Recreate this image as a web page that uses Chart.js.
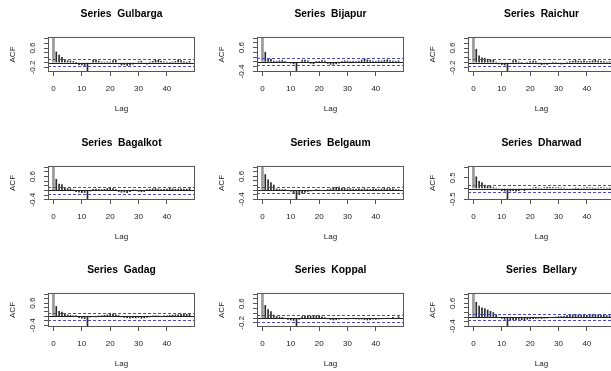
<!DOCTYPE html>
<html>
<head>
<meta charset="utf-8">
<script src="https://cdn.jsdelivr.net/npm/chart.js@4.4.1/dist/chart.umd.min.js"></script>
<style>
  html, body { margin: 0; padding: 0; background: #fff; width: 611px; height: 371px; overflow: hidden; position: relative; }
  .panel { position: absolute; }
</style>
</head>
<body>
<script>
// lags 0..48 and the labelled x ticks
const LAGS = [0, 1, 2, 3, 4, 5, 6, 7, 8, 9, 10, 11, 12, 13, 14, 15, 16, 17, 18, 19, 20, 21, 22, 23, 24,
  25, 26, 27, 28, 29, 30, 31, 32, 33, 34, 35, 36, 37, 38, 39, 40, 41, 42, 43, 44, 45, 46, 47, 48];
const X_TICKS = [0, 10, 20, 30, 40];
const CI = 0.15; // the blue dashed bounds

const ACF_GULBARGA = [1.00, 0.44, 0.31, 0.22, 0.12, 0.08, 0.07, 0.05, 0.00, -0.08, -0.10, -0.12, -0.33, -0.05, 0.10, 0.12, 0.06,
  0.03, 0.02, 0.03, 0.02, 0.08, 0.10, -0.05, -0.10, -0.08, -0.12, -0.10, -0.06, -0.03, 0.04, 0.06, -0.04, -0.06, 0.02, 0.05,
  0.10, 0.10, 0.06, 0.03, 0.02, 0.00, 0.03, 0.05, 0.12, 0.08, 0.04, 0.01, 0.05];
const ACF_BIJAPUR = [1.00, 0.41, 0.15, 0.12, 0.04, 0.03, 0.05, 0.06, 0.02, -0.03, -0.05, -0.08, -0.37, -0.03, 0.07, 0.08, 0.05,
  -0.06, -0.08, 0.02, 0.03, 0.06, 0.04, -0.06, -0.10, -0.10, -0.08, -0.05, 0.03, 0.05, 0.04, 0.02, 0.03, 0.00, 0.04, 0.08,
  0.14, 0.09, 0.06, 0.04, 0.03, 0.05, 0.04, 0.07, 0.09, 0.06, 0.04, 0.03, 0.05];
const ACF_RAICHUR = [1.00, 0.55, 0.28, 0.20, 0.18, 0.14, 0.12, 0.10, 0.02, -0.05, -0.08, -0.10, -0.33, -0.04, 0.08, 0.10, 0.03,
  0.00, -0.02, 0.02, 0.04, 0.06, 0.05, -0.05, -0.08, -0.06, -0.07, -0.04, 0.02, 0.00, -0.04, -0.06, -0.05, 0.02, 0.04, 0.06,
  0.09, 0.06, 0.05, 0.07, 0.04, 0.05, 0.08, 0.10, 0.07, 0.05, 0.04, 0.03, 0.04];
const ACF_BAGALKOT = [1.00, 0.48, 0.27, 0.25, 0.10, 0.08, 0.07, 0.02, -0.06, -0.08, -0.10, -0.09, -0.36, -0.03, 0.05, 0.06, 0.04,
  0.03, 0.05, 0.08, 0.10, 0.08, 0.04, -0.05, -0.08, -0.07, -0.10, -0.06, 0.02, 0.01, -0.04, -0.06, -0.05, 0.03, 0.05, 0.07,
  0.08, 0.06, 0.04, 0.05, 0.06, 0.08, 0.07, 0.05, 0.06, 0.07, 0.06, 0.05, 0.08];
const ACF_BELGAUM = [1.00, 0.68, 0.45, 0.33, 0.22, 0.05, 0.03, 0.02, 0.01, -0.02, -0.05, -0.12, -0.38, -0.20, -0.15, -0.10, -0.06,
  -0.04, -0.02, 0.01, 0.00, -0.02, -0.03, 0.02, 0.05, 0.08, 0.12, 0.13, 0.08, 0.07, 0.05, 0.06, 0.04, 0.03, 0.05, 0.04,
  0.06, 0.04, 0.03, 0.05, 0.04, 0.03, 0.05, 0.07, 0.06, 0.07, 0.05, 0.03, 0.02];
const ACF_DHARWAD = [1.00, 0.55, 0.34, 0.28, 0.16, 0.13, 0.10, 0.05, 0.02, -0.05, -0.10, -0.12, -0.48, -0.12, -0.10, -0.13, -0.10,
  -0.06, -0.10, -0.03, 0.00, 0.03, 0.05, 0.02, -0.02, 0.04, 0.06, 0.05, 0.04, 0.03, 0.04, 0.03, 0.02, -0.03, -0.05, -0.02,
  0.01, 0.00, -0.02, 0.03, 0.04, 0.03, 0.01, 0.00, 0.02, 0.04, 0.03, 0.02, 0.01];
const ACF_GADAG = [1.00, 0.45, 0.23, 0.20, 0.12, 0.07, 0.05, 0.03, 0.02, -0.06, -0.08, -0.10, -0.42, -0.03, 0.00, -0.02, 0.02,
  0.03, 0.05, 0.07, 0.10, 0.12, 0.08, 0.04, -0.02, -0.05, -0.06, -0.08, -0.06, -0.07, -0.05, -0.08, -0.07, -0.05, -0.02, 0.02,
  0.03, 0.02, 0.00, 0.02, 0.03, 0.05, 0.06, 0.07, 0.08, 0.10, 0.12, 0.09, 0.12];
const ACF_KOPPAL = [1.00, 0.53, 0.36, 0.27, 0.13, 0.07, 0.05, 0.03, -0.02, -0.06, -0.08, -0.10, -0.32, -0.05, 0.06, 0.10, 0.08,
  0.09, 0.12, 0.10, 0.08, 0.05, 0.02, -0.03, -0.06, -0.08, -0.07, -0.05, -0.02, -0.03, -0.04, -0.02, 0.00, -0.03, -0.05, -0.04,
  -0.06, -0.08, -0.07, -0.05, -0.06, -0.04, -0.03, -0.02, 0.00, -0.02, 0.03, -0.03, 0.06];
const ACF_BELLARY = [1.00, 0.65, 0.48, 0.40, 0.37, 0.31, 0.25, 0.20, 0.11, -0.02, -0.06, -0.10, -0.38, -0.12, -0.13, -0.12, -0.10,
  -0.12, -0.14, -0.10, -0.08, -0.07, -0.06, -0.05, -0.06, -0.05, -0.04, -0.03, -0.02, 0.00, 0.02, 0.03, 0.04, 0.06, 0.08, 0.10,
  0.12, 0.10, 0.09, 0.10, 0.08, 0.09, 0.11, 0.12, 0.10, 0.09, 0.08, 0.07, 0.06];

// y tick sets and which of them carry a label
const YT_02A = [-0.2, 0, 0.2, 0.4, 0.6, 0.8, 1.0];
const YT_02B = [-0.4, -0.2, 0, 0.2, 0.4, 0.6, 0.8, 1.0];
const YT_05 = [-0.5, 0, 0.5, 1.0];
const YL_A = [-0.2, 0.6];
const YL_B = [-0.4, 0.6];
const YL_C = [-0.5, 0.5];

const PANELS = [
  { name: 'Gulbarga', acf: ACF_GULBARGA, yt: YT_02A, yl: YL_A },
  { name: 'Bijapur', acf: ACF_BIJAPUR, yt: YT_02B, yl: YL_B },
  { name: 'Raichur', acf: ACF_RAICHUR, yt: YT_02A, yl: YL_A },
  { name: 'Bagalkot', acf: ACF_BAGALKOT, yt: YT_02B, yl: YL_B },
  { name: 'Belgaum', acf: ACF_BELGAUM, yt: YT_02B, yl: YL_B },
  { name: 'Dharwad', acf: ACF_DHARWAD, yt: YT_05, yl: YL_C },
  { name: 'Gadag', acf: ACF_GADAG, yt: YT_02B, yl: YL_B },
  { name: 'Koppal', acf: ACF_KOPPAL, yt: YT_02A, yl: YL_A },
  { name: 'Bellary', acf: ACF_BELLARY, yt: YT_02B, yl: YL_B },
];

// where each plot box sits on the page
const COL_LEFT = [48, 257, 468];
const ROW_TOP = [37, 166, 293];
const ROW_H = [35, 34, 34];
const BOX_W = 147;

const FONT = '"Liberation Sans", Arial, sans-serif';
const INK = '#222';
const AXIS = '#555';

// zero line, blue bounds, box and the rotated y labels R-style
const acfDecor = {
  id: 'acfDecor',
  afterDatasetsDraw(chart, args, opts) {
    const { ctx, chartArea: a, scales: { y } } = chart;
    ctx.save();
    ctx.lineWidth = 1;
    const y0 = Math.round(y.getPixelForValue(0)) + 0.5;
    ctx.strokeStyle = INK;
    ctx.beginPath(); ctx.moveTo(a.left, y0); ctx.lineTo(a.right, y0); ctx.stroke();

    ctx.strokeStyle = '#4b4bc6';
    ctx.setLineDash([3, 2]);
    for (const c of [opts.ci, -opts.ci]) {
      const py = Math.round(y.getPixelForValue(c)) + 0.5;
      ctx.beginPath(); ctx.moveTo(a.left, py); ctx.lineTo(a.right, py); ctx.stroke();
    }
    ctx.setLineDash([]);
    ctx.strokeStyle = AXIS;
    ctx.strokeRect(a.left + 0.5, a.top + 0.5, a.right - a.left - 1, a.bottom - a.top - 1);

    ctx.fillStyle = INK;
    ctx.font = '8px ' + FONT;
    ctx.textAlign = 'center';
    ctx.textBaseline = 'middle';
    for (const v of opts.labels) {
      ctx.save();
      ctx.translate(a.left - 15, y.getPixelForValue(v));
      ctx.rotate(-Math.PI / 2);
      ctx.fillText(v.toFixed(1), 0, 0);
      ctx.restore();
    }
    ctx.restore();
  },
};

PANELS.forEach((p, i) => {
  const col = i % 3, row = Math.floor(i / 3);
  const boxH = ROW_H[row];
  const W = 48 + BOX_W + 10, H = 37 + boxH + 47;
  const div = document.createElement('div');
  div.className = 'panel';
  div.style.left = (COL_LEFT[col] - 48) + 'px';
  div.style.top = (ROW_TOP[row] - 37) + 'px';
  const canvas = document.createElement('canvas');
  canvas.width = W; canvas.height = H;
  canvas.style.width = W + 'px'; canvas.style.height = H + 'px';
  div.appendChild(canvas);
  document.body.appendChild(div);

  // R: ylim from the data and the bounds, widened by 4%
  const lo = Math.min(...p.acf, -CI), hi = Math.max(...p.acf, CI);
  const yPad = 0.04 * (hi - lo);
  const xPad = 0.04 * (LAGS[LAGS.length - 1] - LAGS[0]);

  new Chart(canvas.getContext('2d'), {
    type: 'bar',
    data: {
      datasets: [
        { data: [{ x: LAGS[0], y: p.acf[0] }], backgroundColor: '#999999', barThickness: 2 },
        { data: LAGS.slice(1).map((l, k) => ({ x: l, y: p.acf[k + 1] })), backgroundColor: '#2a2a2a', barThickness: 1 },
      ],
    },
    options: {
      responsive: false,
      animation: false,
      devicePixelRatio: 1,
      grouped: false,
      layout: { padding: { left: 0, top: 0, right: 10, bottom: 0 } },
      plugins: {
        legend: { display: false },
        tooltip: { enabled: false },
        title: {
          display: true,
          fullSize: false,
          text: 'Series  ' + p.name,
          color: '#000',
          font: { family: FONT, size: 10.3, weight: 'bold', lineHeight: 1.2 },
          padding: { top: 7.8, bottom: 16.8 },
        },
        acfDecor: { ci: CI, labels: p.yl },
      },
      scales: {
        x: {
          type: 'linear',
          offset: false,
          min: LAGS[0] - xPad,
          max: LAGS[LAGS.length - 1] + xPad,
          afterBuildTicks: (s) => { s.ticks = X_TICKS.map((v) => ({ value: v })); },
          afterFit: (s) => { s.height = 47; },
          grid: { offset: false, drawOnChartArea: false, drawTicks: true, tickLength: 4, color: AXIS },
          border: { display: false },
          ticks: { color: INK, font: { family: FONT, size: 8 }, padding: 8.2, maxRotation: 0, autoSkip: false },
          title: { display: true, text: 'Lag', color: INK, font: { family: FONT, size: 8 }, padding: { top: 0, bottom: 5.6 } },
        },
        y: {
          min: lo - yPad,
          max: hi + yPad,
          afterBuildTicks: (s) => { s.ticks = p.yt.map((v) => ({ value: v })); },
          afterFit: (s) => { s.width = 48; },
          grid: { drawOnChartArea: false, drawTicks: true, tickLength: 4, color: AXIS },
          border: { display: false },
          ticks: { display: false },
          title: { display: true, text: 'ACF', color: INK, font: { family: FONT, size: 8 }, padding: { top: 7.5, bottom: 0 } },
        },
      },
    },
    plugins: [acfDecor],
  });
});
</script>
</body>
</html>
